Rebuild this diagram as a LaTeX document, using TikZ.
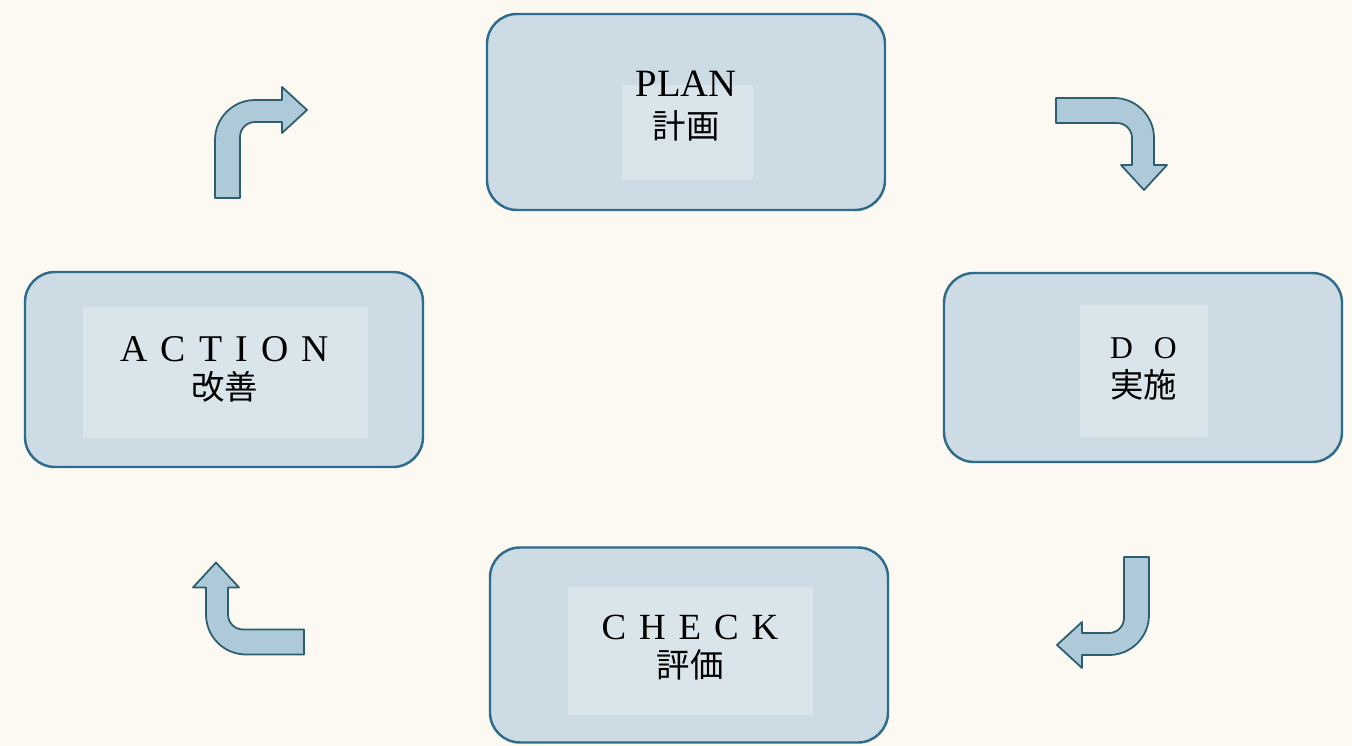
\documentclass[tikz,border=0pt]{standalone}
\usepackage{fontspec}
\setmainfont{Liberation Serif}
\newfontfamily\cjk{Noto Sans CJK JP}
\definecolor{paper}{HTML}{FBF9F1}
\definecolor{boxfill}{HTML}{CDDCE4}
\definecolor{boxline}{HTML}{2F6C8C}
\definecolor{panelfill}{HTML}{D9E5EB}
\definecolor{arrowfill}{HTML}{AECAD9}
\definecolor{arrowline}{HTML}{2C5E70}
\newcommand{\ls}{\hspace{0.35em}}
\tikzset{bentarrow/.pic={
	\draw[draw=arrowline,fill=arrowfill,line width=1pt,line join=round]
	(-0.42,-1.11)--(-0.92,-1.11)--(-0.92,0.05) arc(180:90:0.8)--(0.42,0.85)--(0.42,1.11)
	--(0.92,0.65)--(0.42,0.19)--(0.42,0.41)--(-0.12,0.41) arc(90:180:0.3)--cycle;
}}
\begin{document}
\begin{tikzpicture}[line join=round, line cap=round,
	stagebox/.style={draw=boxline,fill=boxfill,line width=1.4pt,rounded corners=0.6cm,minimum width=7.96cm,minimum height=3.92cm},
	panel/.style={fill=panelfill,inner sep=0pt},
	title/.style={align=center,inner sep=0pt,text=black}]
	\useasboundingbox[fill=paper] (0,0) rectangle (27.04,14.92);
	% the four stages
	\node[stagebox] (plan) at (13.72,12.68) {};
	\node[stagebox,minimum height=3.78cm] (do) at (22.86,7.57) {};
	\node[stagebox,minimum height=3.9cm] (check) at (13.78,2.02) {};
	\node[stagebox,minimum height=3.9cm] (action) at (4.48,7.53) {};
	\node[panel,minimum width=2.62cm,minimum height=1.9cm] (planpanel) at (13.75,12.27) {};
	\node[panel,minimum width=2.56cm,minimum height=2.64cm] (dopanel) at (22.88,7.5) {};
	\node[panel,minimum width=4.9cm,minimum height=2.56cm] (checkpanel) at (13.81,1.9) {};
	\node[panel,minimum width=5.7cm,minimum height=2.62cm] (actionpanel) at (4.51,7.47) {};
	\node[title,font=\fontsize{22}{22}\selectfont] (plantext) at (13.72,12.8)
		{PLAN\\[2pt]{\cjk\fontsize{19}{19}\selectfont 計画}};
	\node[title,font=\fontsize{18}{21}\selectfont] (dotext) at (22.87,7.54)
		{D\hspace{0.66em}O\\[1pt]{\cjk\fontsize{19}{19}\selectfont 実施}};
	\node[title,font=\fontsize{21}{21}\selectfont] (checktext) at (13.8,1.97)
		{C\ls H\ls E\ls C\ls K\\[1pt]{\cjk\fontsize{19}{19}\selectfont 評価}};
	\node[title,font=\fontsize{21.5}{21}\selectfont] (actiontext) at (4.49,7.53)
		{A\ls C\ls T\ls I\ls O\ls N\\[1pt]{\cjk\fontsize{19}{19}\selectfont 改善}};
	% turning arrows
	\pic at (5.22,12.07) {bentarrow};
	\pic[rotate=-90] at (22.23,12.04) {bentarrow};
	\pic[rotate=180] at (22.06,2.67) {bentarrow};
	\pic[rotate=90] at (4.97,2.75) {bentarrow};
\end{tikzpicture}
\end{document}
